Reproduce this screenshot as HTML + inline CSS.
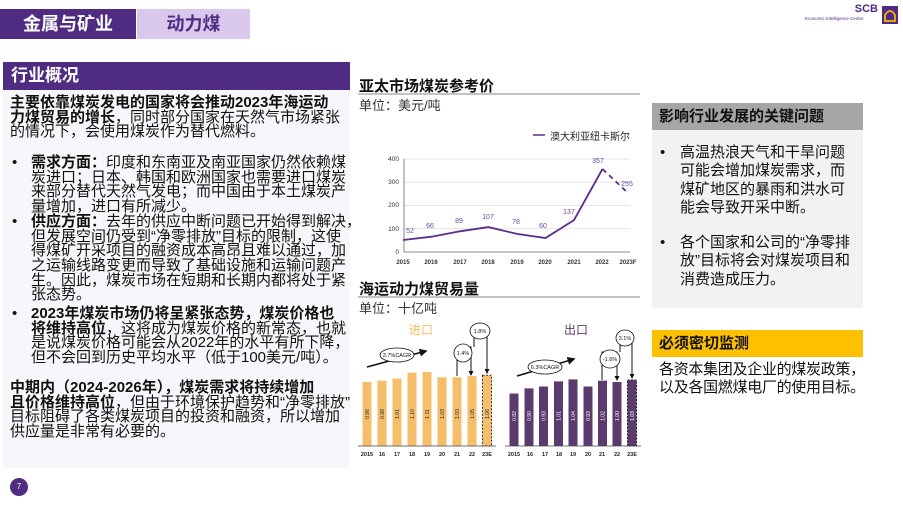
<!DOCTYPE html>
<html><head><meta charset="utf-8">
<style>
*{margin:0;padding:0;box-sizing:border-box}
body{width:903px;height:506px;background:#fff;position:relative;overflow:hidden;font-family:"Liberation Sans","Noto Sans CJK SC",sans-serif;color:#111}
.a{position:absolute;white-space:nowrap}
.t{font-size:15px;line-height:14.7px;letter-spacing:0px}
b{font-weight:bold}
.r{font-size:15px;line-height:18.3px}
</style></head><body>
<div class="a" style="left:0;top:9px;width:136px;height:30px;background:#4f2c82;color:#fff;font-size:18px;font-weight:bold;text-align:center;line-height:30px">金属与矿业</div>
<div class="a" style="left:137px;top:9px;width:113px;height:30px;background:#d9c8ec;color:#4f2c82;font-size:18px;font-weight:bold;text-align:center;line-height:30px">动力煤</div>

<div class="a" style="left:3px;top:62px;width:347px;height:28px;background:#4f2c82;color:#fff;font-size:17px;font-weight:bold;line-height:28px;padding-left:8px">行业概况</div>
<div class="a" style="left:3px;top:90px;width:347px;height:378px;background:#f7f6fa"></div>

<div class="a t" style="left:10px;top:96px"><b>主要依靠煤炭发电的国家将会推动2023年海运动</b><br><b>力煤贸易的增长</b>，同时部分国家在天然气市场紧张<br>的情况下，会使用煤炭作为替代燃料。</div>
<div class="a t" style="left:12px;top:156px">•</div>
<div class="a t" style="left:12px;top:215px">•</div>
<div class="a t" style="left:12px;top:307px">•</div>
<div class="a t" style="left:31px;top:156px"><b>需求方面：</b>印度和东南亚及南亚国家仍然依赖煤<br>炭进口；日本、韩国和欧洲国家也需要进口煤炭<br>来部分替代天然气发电；而中国由于本土煤炭产<br>量增加，进口有所减少。<br><b>供应方面：</b>去年的供应中断问题已开始得到解决，<br>但发展空间仍受到“净零排放”目标的限制，这使<br>得煤矿开采项目的融资成本高昂且难以通过，加<br>之运输线路变更而导致了基础设施和运输问题产<br>生。因此，煤炭市场在短期和长期内都将处于紧<br>张态势。</div>
<div class="a t" style="left:31px;top:307px"><b>2023年煤炭市场仍将呈紧张态势，煤炭价格也</b><br><b>将维持高位</b>，这将成为煤炭价格的新常态，也就<br>是说煤炭价格可能会从2022年的水平有所下降，<br>但不会回到历史平均水平（低于100美元/吨）。</div>
<div class="a t" style="left:10px;top:381px"><b>中期内（2024-2026年），煤炭需求将持续增加</b><br><b>且价格维持高位</b>，但由于环境保护趋势和“净零排放”<br>目标阻碍了各类煤炭项目的投资和融资，所以增加<br>供应量是非常有必要的。</div>

<div class="a" style="left:10px;top:478px;width:18px;height:18px;border-radius:50%;background:#4f2c82;color:#fff;font-size:8px;text-align:center;line-height:18px">7</div>

<!-- SCB logo -->
<div class="a" style="right:25px;top:3px;color:#4f2c82;font-size:11px;font-weight:bold;text-align:right">SCB</div>
<div class="a" style="left:805px;top:16px;color:#4f2c82;font-size:4.5px">Economic Intelligence Center</div>
<svg class="a" style="left:882px;top:6px" width="16" height="18"><rect width="16" height="18" fill="#4f2c82"/><path d="M3 15 V9 Q8 1 13 9 V15 Z" fill="none" stroke="#f5b800" stroke-width="1.8"/></svg>

<!-- chart titles -->
<div class="a" style="left:359px;top:75px;font-size:15px;font-weight:bold">亚太市场煤炭参考价</div>
<div class="a" style="left:359px;top:95px;font-size:13px;color:#333">单位：美元/吨</div>
<div class="a" style="left:359px;top:278px;font-size:15px;font-weight:bold">海运动力煤贸易量</div>
<div class="a" style="left:359px;top:298px;font-size:13px;color:#333">单位：十亿吨</div>
<div class="a" style="left:550px;top:128px;font-size:10px;color:#222">澳大利亚纽卡斯尔</div>
<div class="a" style="left:409px;top:321px;font-size:12px;color:#f5be6a">进口</div>
<div class="a" style="left:564px;top:321px;font-size:12px;color:#5b3a6e">出口</div>

<svg class="a" style="left:0;top:0" width="903" height="506" font-family="Liberation Sans, sans-serif">
<line x1="358" y1="94" x2="640" y2="94" stroke="#888" stroke-width="1"/>
<line x1="358" y1="297" x2="640" y2="297" stroke="#888" stroke-width="1"/>
<line x1="533" y1="135" x2="545" y2="135" stroke="#5b2d8e" stroke-width="1.5"/>
<g stroke="#ddd" stroke-width="0.8">
<line x1="404" y1="159" x2="630" y2="159"/><line x1="404" y1="182.25" x2="630" y2="182.25"/><line x1="404" y1="205.5" x2="630" y2="205.5"/><line x1="404" y1="228.75" x2="630" y2="228.75"/>
</g>
<line x1="404" y1="159" x2="404" y2="252" stroke="#666" stroke-width="0.8"/>
<line x1="404" y1="252" x2="630" y2="252" stroke="#666" stroke-width="0.8"/>
<g font-size="6.5" fill="#333" text-anchor="end">
<text x="399" y="161">400</text><text x="399" y="184">300</text><text x="399" y="207">200</text><text x="399" y="231">100</text><text x="399" y="254">0</text>
</g>
<g font-size="6" fill="#333" text-anchor="middle" font-weight="bold">
<text x="403" y="264">2015</text><text x="431" y="264">2016</text><text x="460" y="264">2017</text><text x="488" y="264">2018</text><text x="517" y="264">2019</text><text x="545" y="264">2020</text><text x="574" y="264">2021</text><text x="602" y="264">2022</text><text x="628" y="264">2023F</text>
</g>
<polyline points="403,240 431.5,236.7 460,231.3 488.5,227.1 517,233.9 545.5,238 574,220.1 602.5,169" fill="none" stroke="#5b2d8e" stroke-width="1.8"/>
<line x1="602.5" y1="169" x2="628" y2="193" stroke="#5b2d8e" stroke-width="1.8" stroke-dasharray="5,4"/>
<g font-size="7" fill="#6b4a9e" text-anchor="middle">
<text x="410" y="233">52</text><text x="430" y="228">66</text><text x="459" y="223">89</text><text x="488" y="219">107</text><text x="516" y="224">78</text><text x="543" y="228">60</text><text x="569" y="214">137</text><text x="598" y="163">357</text><text x="627" y="186">255</text>
</g>

<!-- import bars -->
<g fill="#f5be6a">
<rect x="362.5" y="382" width="9" height="64"/><rect x="377.5" y="380.6" width="9" height="65.4"/><rect x="392.5" y="378.6" width="9" height="67.4"/><rect x="407.5" y="372.6" width="9" height="73.4"/><rect x="422.5" y="372" width="9" height="74"/><rect x="437.5" y="377.3" width="9" height="68.7"/><rect x="452.5" y="377.3" width="9" height="68.7"/><rect x="467.5" y="376" width="9" height="70"/>
<rect x="482.5" y="375.3" width="9" height="70.7" stroke="#333" stroke-width="1" stroke-dasharray="2,1.5"/>
</g>
<line x1="358" y1="446" x2="496" y2="446" stroke="#444" stroke-width="0.8"/>
<g font-size="5" fill="#222" text-anchor="middle">
<text transform="translate(369,414) rotate(-90)">0.96</text><text transform="translate(384,414) rotate(-90)">0.98</text><text transform="translate(399,414) rotate(-90)">1.01</text><text transform="translate(414,414) rotate(-90)">1.10</text><text transform="translate(429,414) rotate(-90)">1.11</text><text transform="translate(444,414) rotate(-90)">1.03</text><text transform="translate(459,414) rotate(-90)">1.03</text><text transform="translate(474,414) rotate(-90)">1.05</text><text transform="translate(489,414) rotate(-90)">1.06</text>
</g>
<g font-size="5.5" fill="#222" text-anchor="middle" font-weight="bold">
<text x="367" y="456">2015</text><text x="382" y="456">16</text><text x="397" y="456">17</text><text x="412" y="456">18</text><text x="427" y="456">19</text><text x="442" y="456">20</text><text x="457" y="456">21</text><text x="472" y="456">22</text><text x="487" y="456">23E</text>
</g>
<!-- export bars -->
<g fill="#5b3a6e">
<rect x="509.5" y="393.5" width="9" height="52.5"/><rect x="524.5" y="388.4" width="9" height="57.6"/><rect x="539" y="386.5" width="9" height="59.5"/><rect x="554" y="381.4" width="9" height="64.6"/><rect x="568.5" y="379.4" width="9" height="66.6"/><rect x="583.5" y="386.5" width="9" height="59.5"/><rect x="598" y="380.7" width="9" height="65.3"/><rect x="612.5" y="382" width="9" height="64"/>
<rect x="627.5" y="380" width="9" height="66" stroke="#222" stroke-width="1" stroke-dasharray="2,1.5"/>
</g>
<line x1="505" y1="446" x2="641" y2="446" stroke="#444" stroke-width="0.8"/>
<g font-size="5" fill="#fff" text-anchor="middle">
<text transform="translate(516,416) rotate(-90)">0.82</text><text transform="translate(531,416) rotate(-90)">0.90</text><text transform="translate(545.5,416) rotate(-90)">0.93</text><text transform="translate(560.5,416) rotate(-90)">1.01</text><text transform="translate(575,416) rotate(-90)">1.04</text><text transform="translate(590,416) rotate(-90)">0.93</text><text transform="translate(604.5,416) rotate(-90)">1.02</text><text transform="translate(619,416) rotate(-90)">1.00</text><text transform="translate(634,416) rotate(-90)">1.03</text>
</g>
<g font-size="5.5" fill="#222" text-anchor="middle" font-weight="bold">
<text x="514" y="456">2015</text><text x="530" y="456">16</text><text x="545" y="456">17</text><text x="559" y="456">18</text><text x="573" y="456">19</text><text x="588" y="456">20</text><text x="602" y="456">21</text><text x="617" y="456">22</text><text x="632" y="456">23E</text>
</g>
<!-- annotations -->
<defs><marker id="ah" markerWidth="5" markerHeight="5" refX="4" refY="2.5" orient="auto"><path d="M0,0 L5,2.5 L0,5 Z" fill="#111"/></marker></defs>
<g stroke="#111" stroke-width="1" fill="none">
<line x1="367" y1="367" x2="426" y2="351" stroke-width="1.6" marker-end="url(#ah)"/>
<line x1="517" y1="376" x2="574" y2="359" stroke-width="1.6" marker-end="url(#ah)"/>
<polyline points="457,376 457,347 471,347 471,375" marker-end="url(#ah)"/>
<polyline points="474,347 474,330 487,330 487,373" marker-end="url(#ah)"/>
<polyline points="602,380 602,352 617,352 617,380" marker-end="url(#ah)"/>
<polyline points="620,352 620,336 632,336 632,378" marker-end="url(#ah)"/>
</g>
<g fill="#fff" stroke="#111" stroke-width="0.8">
<ellipse cx="397" cy="355" rx="17" ry="7"/><ellipse cx="545" cy="367" rx="17" ry="7"/>
<ellipse cx="463" cy="353" rx="9" ry="9"/><ellipse cx="480" cy="331" rx="10" ry="8"/>
<ellipse cx="610" cy="359" rx="10" ry="9"/><ellipse cx="625" cy="338" rx="9" ry="8"/>
</g>
<g font-size="5.5" fill="#111" text-anchor="middle">
<text x="397" y="357">3.7%CAGR</text><text x="545" y="369">6.3%CAGR</text>
<text x="463" y="355">1.4%</text><text x="480" y="333">1.8%</text><text x="610" y="361">-1.6%</text><text x="625" y="340">3.1%</text>
</g>
</svg>

<!-- right panel -->
<div class="a" style="left:652px;top:103px;width:211px;height:27px;background:#a6a6a6;font-size:15px;font-weight:bold;line-height:27px;padding-left:7px">影响行业发展的关键问题</div>
<div class="a" style="left:652px;top:130px;width:211px;height:178px;background:#f2f2f2"></div>
<div class="a r" style="left:660px;top:144px">•</div>
<div class="a r" style="left:680px;top:144px">高温热浪天气和干旱问题<br>可能会增加煤炭需求，而<br>煤矿地区的暴雨和洪水可<br>能会导致开采中断。</div>
<div class="a r" style="left:660px;top:234px">•</div>
<div class="a r" style="left:680px;top:234px">各个国家和公司的“净零排<br>放”目标将会对煤炭项目和<br>消费造成压力。</div>
<div class="a" style="left:652px;top:330px;width:211px;height:27px;background:#ffc000;font-size:15px;font-weight:bold;line-height:27px;padding-left:7px">必须密切监测</div>
<div class="a r" style="left:659px;top:361px;letter-spacing:-0.3px">各资本集团及企业的煤炭政策，<br>以及各国燃煤电厂的使用目标。</div>
</body></html>
